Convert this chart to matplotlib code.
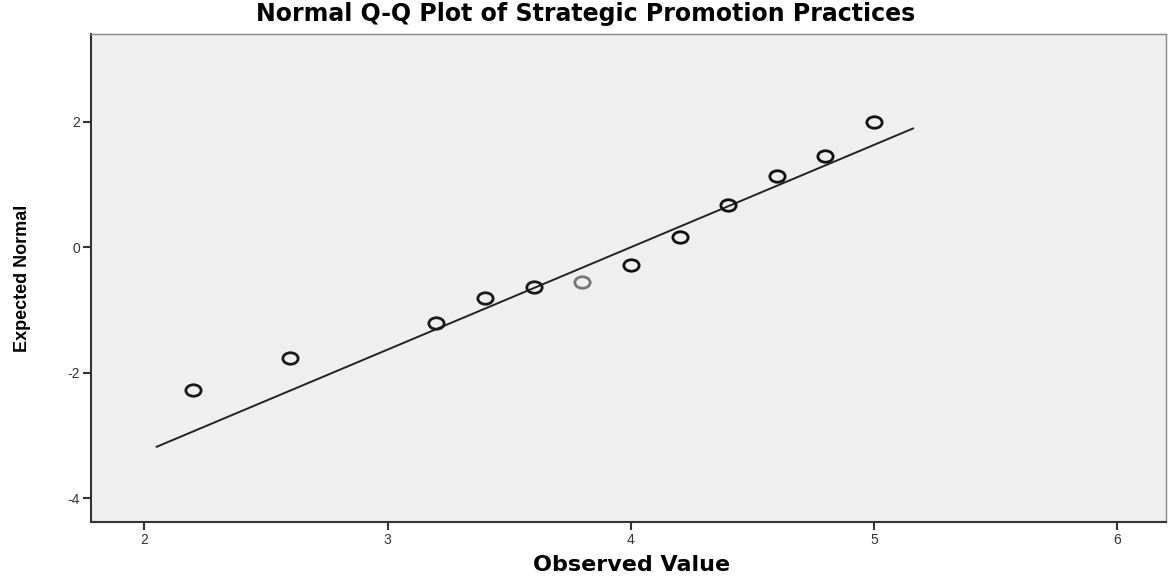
import numpy as np
import matplotlib
matplotlib.use("Agg")
import matplotlib.pyplot as plt
from matplotlib.path import Path

plt.rcParams["font.family"] = ["Liberation Sans", "DejaVu Sans"]
plt.rcParams["axes.unicode_minus"] = False

# observed values and their expected normal scores
observed = [2.2, 2.6, 3.2, 3.4, 3.6, 3.8, 4.0, 4.2, 4.4, 4.6, 4.8, 5.0]
expected = [-2.28, -1.77, -1.21, -0.81, -0.63, -0.55, -0.28, 0.17, 0.67, 1.13, 1.46, 2.0]
point_colors = ["#1a1a1a"] * 5 + ["#777777"] + ["#111111"] * 6

# reference line y = (x - mean) / sd
line_x = [2.05, 5.16]
mean, sd = 4.0, 0.613

# the source image is stretched sideways, so circles look like flat ellipses
unit = Path.unit_circle()
oval = Path(unit.vertices * np.array([1.0, 0.75]), unit.codes)

fig = plt.figure(figsize=(11.71, 5.77), dpi=100, facecolor="white")
ax = fig.add_axes([0.0777, 0.0953, 0.918, 0.846])
ax.set_facecolor("#efefef")

lx = np.array(line_x)
ax.plot(lx, (lx - mean) / sd, color="#222222", lw=1.4, zorder=2)

for x, y, c in zip(observed, expected, point_colors):
    ax.plot(x, y, marker=oval, ms=11, mfc="none", mec=c, mew=2.0, ls="none", zorder=3)

ax.set_xlim(1.78, 6.2)
ax.set_ylim(-4.38, 3.4)
ax.set_xticks([2, 3, 4, 5, 6])
ax.set_yticks([-4, -2, 0, 2])
ax.tick_params(direction="out", length=6, width=1.5, color="#333333",
               labelsize=10, labelcolor="#333333", pad=2)

for side in ["left", "bottom"]:
    ax.spines[side].set_color("#333333")
    ax.spines[side].set_linewidth(1.5)
for side in ["top", "right"]:
    ax.spines[side].set_color("#888888")
    ax.spines[side].set_linewidth(1.0)

fig.text(0.5, 0.975, "Normal Q-Q Plot of Strategic Promotion Practices",
         ha="center", va="center", fontsize=17, fontweight="bold",
         family="DejaVu Sans")
fig.text(0.539, 0.021, "Observed Value", ha="center", va="center",
         fontsize=16, fontweight="bold", family="DejaVu Sans")
fig.text(0.019, 0.518, "Expected Normal", ha="center", va="center", rotation=90,
         fontsize=13, fontweight="bold")

fig.savefig("out.png", dpi=100, facecolor="white")
